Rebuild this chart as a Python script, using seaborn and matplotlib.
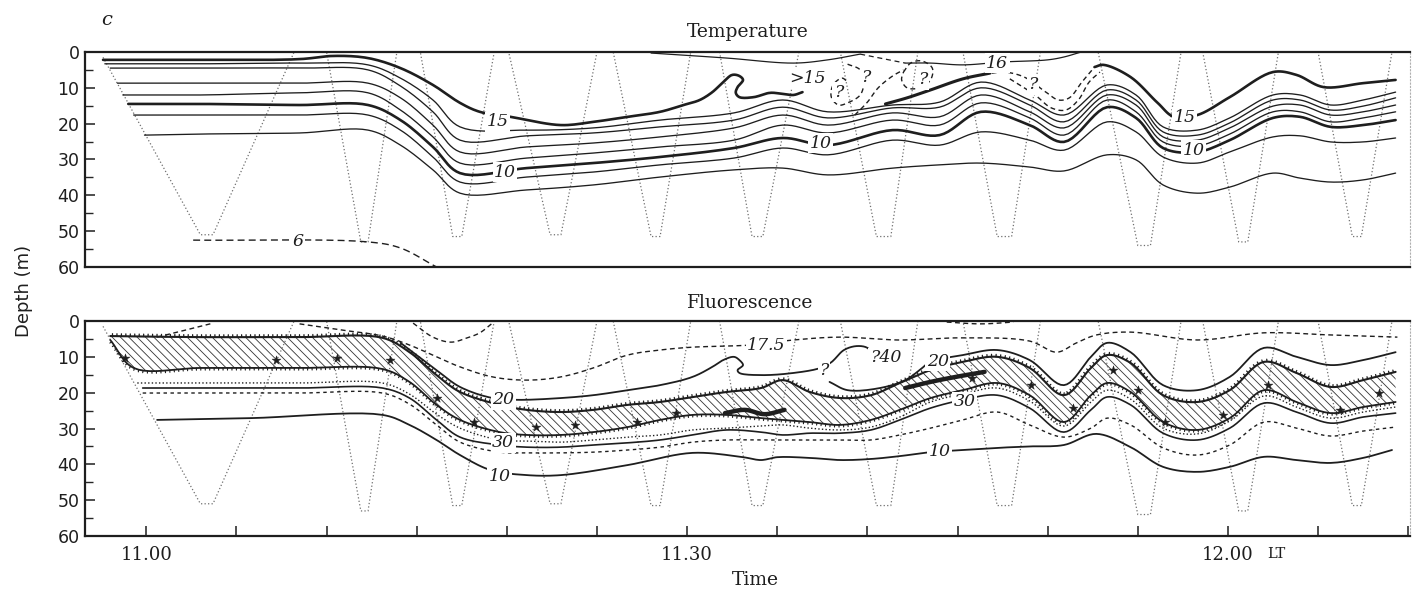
import numpy as np
import matplotlib
matplotlib.use("Agg")
import matplotlib.pyplot as plt
import matplotlib.patheffects as pe
from matplotlib.ticker import MultipleLocator
import seaborn as sns

# ------------------------------------------------------------------
# Axes: time in minutes after 11.00 local time, depth in metres
# ------------------------------------------------------------------
time_ticks = [0, 5, 10, 15, 20, 25, 30, 35, 40, 45, 50, 55, 60, 65, 70]
time_labels = ["11.00", "", "", "", "", "", "11.30", "", "", "", "", "", "12.00", "", ""]
depth_ticks = [0, 10, 20, 30, 40, 50, 60]
time_range = [-3.4, 70.1]

# towed-body track (same run for both sections)
tow_t = [-2.4, 3.0, 3.7, 8.2, 10.0, 11.9, 12.3, 13.9, 15.2, 17.0, 17.5, 19.3, 20.1,
         22.4, 23.0, 25.0, 25.9, 28.0, 28.5, 30.2, 31.8, 33.6, 34.2, 36.2, 38.5,
         40.5, 41.3, 42.8, 45.3, 47.2, 48.0, 49.6, 52.8, 55.0, 55.7, 57.4, 58.6,
         60.6, 61.1, 62.8, 65.0, 66.9, 67.4, 69.1]
tow_d = [1.5, 51.0, 51.0, 0.0, 0.0, 53.0, 53.0, 0.0, 0.0, 51.5, 51.5, 0.0, 0.0,
         51.0, 51.0, 0.0, 0.0, 51.5, 51.5, 0.0, 0.0, 51.5, 51.5, 0.0, 0.0,
         51.5, 51.5, 0.0, 0.0, 51.5, 51.5, 0.0, 0.0, 54.0, 54.0, 0.0, 0.0,
         53.0, 53.0, 0.0, 0.0, 51.5, 51.5, 0.0]

# ------------------------------------------------------------------
# Temperature section: isotherm depths
# ------------------------------------------------------------------
iso_cols = [3.0, 8.5, 12.3, 14.1, 15.9, 17.4, 21.1, 24.8, 28.5, 32.6, 35.3, 37.8, 41.4,
            44.0, 46.3, 49.0, 50.9, 53.3, 54.9, 56.4, 58.3, 60.1, 62.5, 64.0, 65.7, 67.5, 69.3]
iso_names = ["14", "13", "12", "11", "10", "9", "8"]
iso_start_t = [-2.3, -2.0, -1.6, -1.3, -1.0, -0.7, -0.1]
iso_start_d = [3.3, 4.5, 8.7, 12.0, 14.5, 17.6, 23.2]
temp14 = [3.3, 3.1, 3.6, 7.3, 13.4, 20.9, 21.8, 21.2, 19.0, 17.0, 13.4, 16.7, 14.8, 14.0,
          8.4, 13.4, 17.6, 9.2, 12.0, 20.9, 21.8, 18.4, 12.0, 12.0, 14.8, 13.4, 11.2]
temp13 = [4.5, 4.5, 5.0, 9.5, 16.7, 24.6, 23.4, 22.6, 20.9, 19.0, 15.4, 18.4, 15.6, 15.4,
          10.0, 14.8, 19.5, 10.6, 13.4, 22.3, 23.2, 19.8, 13.4, 13.4, 16.2, 15.1, 12.8]
temp12 = [8.7, 8.7, 8.7, 12.8, 20.4, 27.9, 26.5, 25.4, 23.7, 21.2, 17.6, 20.4, 17.0, 18.1,
          12.0, 16.7, 21.2, 12.0, 14.8, 23.7, 24.6, 21.2, 15.1, 14.8, 17.6, 16.7, 14.8]
temp11 = [12.0, 11.4, 11.4, 16.2, 23.7, 31.0, 29.6, 28.2, 26.5, 24.6, 20.4, 22.6, 19.0, 20.4,
          14.2, 18.4, 23.2, 13.4, 16.7, 25.1, 26.2, 22.9, 16.7, 16.7, 19.5, 18.4, 16.7]
temp10 = [14.5, 14.8, 14.8, 19.0, 26.5, 33.8, 32.4, 31.0, 29.3, 26.8, 24.0, 26.0, 21.8, 23.2,
          16.7, 20.4, 25.1, 15.4, 18.4, 26.8, 27.9, 24.6, 18.4, 18.1, 20.9, 20.4, 19.0]
temp9 = [17.6, 17.6, 17.6, 21.8, 29.3, 36.3, 34.9, 33.5, 31.5, 29.6, 26.8, 28.7, 24.6, 26.0,
         22.3, 24.6, 27.4, 19.5, 22.3, 29.3, 31.0, 27.9, 23.7, 23.4, 25.1, 25.1, 24.0]
temp8 = [22.9, 22.6, 21.8, 26.0, 32.9, 39.4, 38.5, 37.1, 34.9, 32.9, 32.4, 34.3, 32.4, 31.5,
         31.0, 32.1, 33.2, 28.7, 30.1, 37.1, 39.4, 37.7, 33.8, 35.2, 36.3, 35.7, 33.8]

# 15 degree isotherm (with overturning billow), in three pieces
t15a_t = [-2.4, 3.0, 8.5, 10.4, 12.3, 14.1, 15.9, 17.4, 18.5, 20.2, 23.0, 24.8, 26.7, 28.5,
          29.8, 30.7, 31.4, 32.0, 32.5, 32.9, 33.1, 32.8, 32.7, 32.9, 33.7, 34.6, 35.3, 35.9, 36.4]
t15a_d = [2.2, 2.2, 2.0, 1.1, 1.7, 4.5, 9.2, 14.2, 16.7, 18.1, 20.4, 19.5, 18.1, 16.7,
          14.8, 13.4, 11.2, 8.4, 6.4, 6.7, 7.8, 9.8, 11.4, 12.6, 12.6, 11.4, 11.7, 12.0, 11.2]
t15b_t = [41.0, 42.2, 43.5, 45.3, 46.8]
t15b_d = [14.5, 12.8, 10.6, 7.5, 5.9]
t15c_t = [52.6, 53.1, 54.6, 56.1, 57.0, 58.3, 60.1, 62.5, 63.8, 65.3, 67.5, 69.3]
t15c_d = [4.2, 3.6, 7.0, 14.2, 18.1, 17.6, 12.6, 5.6, 6.4, 9.8, 8.7, 7.8]

# near-surface warm isotherm
surf1_t = [28.0, 32.2, 35.9, 37.8, 39.6]
surf1_d = [0.3, 1.7, 3.1, 2.2, 0.6]
surf_gap_t = [39.6, 40.7, 42.1]
surf_gap_d = [0.6, 1.7, 3.1]
surf2_t = [42.1, 43.5, 45.3, 47.5, 50.0, 50.9, 51.8]
surf2_d = [3.1, 3.1, 3.6, 2.8, 2.2, 1.4, 0.1]

# uncertain (dashed) contours
trough_out_t = [46.9, 47.6, 48.7, 49.9, 50.6, 51.2, 51.9, 52.6]
trough_out_d = [5.9, 5.6, 7.0, 11.2, 13.4, 12.8, 8.4, 4.2]
trough_in_t = [47.9, 49.3, 50.2, 51.0, 51.7, 52.3, 52.9]
trough_in_d = [7.5, 12.0, 15.6, 16.2, 13.4, 8.4, 5.6]
eddyA_t = [38.9, 39.6, 39.8, 39.6, 38.9, 38.4, 38.0, 38.1, 38.6, 38.9]
eddyA_d = [3.4, 5.0, 8.4, 12.0, 14.2, 14.8, 12.6, 9.2, 7.3, 8.4]
eddyB_t = [42.0, 42.4, 43.0, 43.6, 43.5, 42.9, 42.2, 41.9, 42.0]
eddyB_d = [5.6, 3.1, 2.5, 4.5, 7.8, 10.0, 10.0, 7.8, 5.6]
eddy_link_t = [39.3, 40.0, 40.6, 41.4, 42.0]
eddy_link_d = [17.6, 14.0, 10.0, 6.7, 5.0]
t6_t = [2.6, 12.3, 14.1, 16.1]
t6_d = [52.5, 53.0, 54.7, 60.0]

temp_label_text = ["15", "10", "10", ">15", "16", "15", "10", "6", "?", "?", "?", "?"]
temp_label_t = [19.5, 19.9, 37.4, 36.7, 47.2, 57.6, 58.1, 8.4, 39.9, 43.1, 38.4, 49.2]
temp_label_d = [19.5, 33.5, 25.4, 7.3, 3.1, 18.4, 27.4, 53.0, 7.0, 7.8, 11.2, 9.2]

# ------------------------------------------------------------------
# Fluorescence section
# ------------------------------------------------------------------
fl_cols = [13.1, 14.6, 16.1, 17.4, 19.6, 21.1, 23.0, 24.8, 26.7, 28.5, 30.3, 32.2, 34.1,
           35.3, 36.8, 38.5, 40.2, 41.8, 43.5, 45.3, 47.2, 49.0, 50.9, 52.4, 53.3, 54.6,
           56.4, 58.3, 60.1, 62.0, 63.8, 65.7, 67.5, 69.3]
band_lead_t = [-2.0, -0.7, 3.0, 8.5]
band_top = [4.2, 4.3, 4.5, 4.5,
            4.7, 8.7, 15.1, 19.8, 23.4, 24.8, 25.4, 24.8, 23.4, 22.6, 21.2, 19.8, 18.7,
            16.5, 19.8, 21.5, 20.7, 17.3, 13.7, 11.4, 10.0, 13.1, 20.7, 13.1, 9.5, 11.7,
            20.7, 22.6, 19.3, 11.4, 14.5, 18.4, 16.5, 14.2]
band_bot = [5.3, 13.1, 13.1, 13.1,
            13.4, 17.0, 23.4, 27.6, 31.0, 31.8, 31.8, 31.0, 29.6, 27.6, 26.2, 26.2, 27.1,
            27.6, 28.2, 29.0, 27.6, 24.8, 21.5, 19.3, 17.3, 20.7, 28.2, 20.7, 17.3, 19.8,
            28.2, 30.4, 27.1, 19.3, 22.6, 25.7, 24.0, 22.6]
side_lead_t = [3.0, 8.5]
dot1_start = [-0.5, 17.3]
dot1_d = [17.3, 17.3,
          17.3, 20.4, 26.0, 29.9, 33.2, 33.5, 33.8, 33.2, 32.4, 31.8, 30.4, 29.9, 29.3,
          29.0, 29.9, 30.4, 29.6, 26.8, 22.6, 20.4, 18.7, 22.3, 29.3, 22.6, 19.3, 21.8,
          29.9, 31.5, 27.9, 20.9, 24.0, 27.1, 25.4, 24.0]
s1_start = [-0.2, 18.7]
s1_d = [18.7, 18.7,
        18.7, 21.5, 27.6, 32.4, 34.6, 35.2, 35.2, 34.6, 34.0, 33.2, 31.8, 30.4, 31.0,
        31.8, 31.3, 31.3, 30.4, 27.6, 24.3, 22.0, 20.7, 24.3, 31.0, 24.8, 21.2, 23.4,
        31.3, 33.2, 29.9, 22.9, 25.4, 28.5, 26.8, 25.7]
dash2_start = [-0.2, 20.1]
dash2_d = [20.1, 20.1,
           20.1, 23.2, 29.0, 33.8, 36.6, 36.8, 36.8, 36.6, 36.0, 35.2, 33.8, 33.2, 33.2,
           33.2, 33.2, 33.2, 33.2, 31.8, 29.9, 27.6, 25.4, 29.0, 32.4, 29.9, 27.1, 29.0,
           35.4, 37.4, 34.6, 28.2, 29.9, 32.1, 30.7, 29.6]
f10_t = [0.6, 5.8, 13.1, 14.6, 16.1, 17.4, 19.1, 21.1, 23.0, 26.7, 30.3, 33.1, 34.1, 35.0,
         36.8, 38.5, 40.2, 41.8, 43.5, 45.3, 47.2, 49.0, 50.9, 52.7, 54.6, 56.4, 58.3, 60.1,
         62.0, 63.8, 65.7, 67.5, 69.1]
f10_d = [27.6, 27.1, 26.2, 29.0, 33.2, 37.4, 41.6, 43.0, 43.0, 40.2, 36.8, 38.0, 38.8, 38.0,
         38.2, 38.8, 38.5, 37.7, 36.6, 36.0, 35.4, 35.0, 34.6, 31.5, 35.2, 40.7, 42.1, 40.7,
         37.9, 38.8, 39.6, 38.2, 36.0]
f20a_t = [14.1, 16.1, 17.4, 19.2, 20.6, 23.0, 24.8, 26.7, 28.5, 30.3, 31.4, 32.0, 32.6,
          32.9, 33.1, 32.8, 32.9, 34.1, 35.9, 37.4, 38.0, 38.7, 39.4, 40.0, 40.3]
f20a_d = [6.1, 13.7, 18.4, 21.5, 22.0, 21.5, 20.7, 19.3, 17.9, 15.6, 12.8, 10.9, 10.0,
          10.9, 12.3, 13.7, 14.5, 15.1, 14.5, 13.1, 11.5, 8.1, 7.0, 7.5, 9.5]
f20b_t = [37.9, 38.9, 40.7, 42.1, 42.9, 43.5, 45.3, 47.2, 49.0, 50.9, 52.4, 53.3, 54.6,
          56.4, 58.3, 60.1, 62.0, 63.8, 65.7, 67.5, 69.3]
f20b_d = [17.0, 19.3, 18.7, 16.5, 13.7, 11.4, 9.5, 8.1, 10.9, 17.9, 10.0, 6.1, 8.7,
          17.9, 19.3, 15.6, 7.5, 10.0, 12.3, 10.9, 8.7]
f175_t = [8.5, 10.8, 13.1, 14.6, 16.1, 17.4, 19.2, 21.1, 23.0, 24.8, 26.7, 28.5, 30.3, 32.2,
          33.5, 35.9, 38.5, 41.7, 45.3, 49.0, 50.5, 51.6, 52.7, 54.6, 58.3, 62.0, 65.7, 69.4]
f175_d = [0.8, 2.5, 4.2, 6.7, 10.0, 12.8, 15.6, 16.5, 15.6, 13.1, 9.5, 8.1, 7.3, 7.0,
          6.7, 5.3, 4.5, 5.3, 4.7, 5.6, 8.7, 6.1, 3.9, 3.1, 5.3, 3.3, 3.9, 4.5]
fsurfA_t = [0.6, 2.2, 3.7]
fsurfA_d = [4.5, 2.5, 0.6]
fU_t = [14.8, 15.9, 16.9, 17.8, 18.5, 19.2]
fU_d = [0.6, 4.5, 5.9, 4.7, 3.3, 0.6]
fsurfB_t = [44.4, 46.3, 48.1]
fsurfB_d = [0.3, 0.8, 0.3]
core1_t = [32.1, 33.2, 34.3, 35.4]
core1_d = [25.7, 24.8, 26.0, 24.8]
core2_t = [42.1, 43.5, 44.9, 46.5]
core2_d = [18.7, 17.0, 15.6, 14.2]
star_t = [-1.2, 7.2, 10.6, 13.5, 16.1, 18.2, 21.6, 23.8, 27.2, 29.4,
          45.8, 49.1, 51.4, 53.6, 55.0, 56.5, 59.7, 62.2, 66.2, 68.4]
star_d = [10.3, 10.9, 10.3, 10.9, 21.5, 28.2, 29.6, 29.0, 28.2, 25.7,
          15.9, 17.9, 24.3, 13.7, 19.3, 28.2, 26.2, 17.9, 24.8, 20.1]

fl_label_text = ["17.5", "20", "30", "10", "?", "?40", "20", "30", "10"]
fl_label_t = [34.4, 19.8, 19.8, 19.6, 37.6, 41.0, 43.9, 45.4, 44.0]
fl_label_d = [6.7, 22.0, 34.0, 43.5, 13.7, 10.3, 11.3, 22.5, 36.4]

# ------------------------------------------------------------------
# Style
# ------------------------------------------------------------------
sns.set_theme(style="ticks")
plt.rcParams["font.family"] = ["DejaVu Sans"]
plt.rcParams["hatch.linewidth"] = 0.6
plt.rcParams["hatch.color"] = "#333333"

INK = "#1e1e1e"
SERIF = "DejaVu Serif"
PX_T, PX_D = 18.0, 3.6   # approximate pixels per minute / per metre


def smooth(t, d, n=10):
    """Centripetal Catmull-Rom curve through the given points."""
    p = np.column_stack([np.asarray(t, float) * PX_T, np.asarray(d, float) * PX_D])
    if len(p) < 3:
        return p[:, 0] / PX_T, p[:, 1] / PX_D
    p = np.vstack([2 * p[0] - p[1], p, 2 * p[-1] - p[-2]])
    pieces = []
    for i in range(1, len(p) - 2):
        p0, p1, p2, p3 = p[i - 1], p[i], p[i + 1], p[i + 2]
        k0 = 0.0
        k1 = k0 + max(np.linalg.norm(p1 - p0), 1e-6) ** 0.5
        k2 = k1 + max(np.linalg.norm(p2 - p1), 1e-6) ** 0.5
        k3 = k2 + max(np.linalg.norm(p3 - p2), 1e-6) ** 0.5
        s = np.linspace(k1, k2, n, endpoint=False)[:, None]
        a1 = (k1 - s) / (k1 - k0) * p0 + (s - k0) / (k1 - k0) * p1
        a2 = (k2 - s) / (k2 - k1) * p1 + (s - k1) / (k2 - k1) * p2
        a3 = (k3 - s) / (k3 - k2) * p2 + (s - k2) / (k3 - k2) * p3
        b1 = (k2 - s) / (k2 - k0) * a1 + (s - k0) / (k2 - k0) * a2
        b2 = (k3 - s) / (k3 - k1) * a2 + (s - k1) / (k3 - k1) * a3
        pieces.append((k2 - s) / (k2 - k1) * b1 + (s - k1) / (k2 - k1) * b2)
    pieces.append(p[-2][None, :])
    out = np.vstack(pieces)
    return out[:, 0] / PX_T, out[:, 1] / PX_D


def contour(ax, t, d, lw=0.9, ls="-", color=INK, curve=True, **kw):
    x, y = smooth(t, d) if curve else (np.asarray(t, float), np.asarray(d, float))
    sns.lineplot(x=x, y=y, ax=ax, sort=False, estimator=None, color=color,
                 linewidth=lw, linestyle=ls, legend=False, **kw)


def label(ax, s, t, d, size=12.5):
    ax.text(t, d, s, ha="center", va="center", fontsize=size, family=SERIF,
            style="italic", color=INK, zorder=6,
            bbox=dict(boxstyle="square,pad=0.08", fc="white", ec="none"))


def frame(ax, show_x):
    ax.set_xlim(*time_range)
    ax.set_ylim(60, 0)
    ax.set_yticks(depth_ticks)
    ax.set_yticklabels([str(v) for v in depth_ticks], fontsize=12.5, family="DejaVu Sans")
    ax.yaxis.set_minor_locator(MultipleLocator(5))
    ax.tick_params(axis="y", which="major", direction="in", length=7, width=1.1, pad=4,
                   colors=INK)
    ax.tick_params(axis="y", which="minor", direction="in", length=6, width=1.0)
    if show_x:
        ax.set_xticks(time_ticks)
        ax.set_xticklabels(time_labels, fontsize=13, family=SERIF)
        ax.tick_params(axis="x", direction="in", length=7, width=1.1, pad=7, colors=INK)
    else:
        ax.set_xticks([])
    for side in ("left", "top", "bottom"):
        ax.spines[side].set_linewidth(1.6)
        ax.spines[side].set_color(INK)
    ax.spines["right"].set_visible(True)
    ax.spines["right"].set_linewidth(0.8)
    ax.spines["right"].set_color("#b0b0b0")
    ax.spines["right"].set_linestyle((0, (1, 2)))
    ax.set_xlabel("")
    ax.set_ylabel("")


fig = plt.figure(figsize=(14.12, 5.94), dpi=100)
ax_t = fig.add_axes([0.0602, 0.5505, 0.9384, 0.3620])
ax_f = fig.add_axes([0.0602, 0.0976, 0.9384, 0.3620])

tow_style = dict(lw=0.9, ls=(0, (1, 1.8)), color="#6f6f6f", curve=False)

# ---------------- Temperature ----------------
contour(ax_t, tow_t, tow_d, **tow_style)
iso_depths = [temp14, temp13, temp12, temp11, temp10, temp9, temp8]
for name, t0, d0, dep in zip(iso_names, iso_start_t, iso_start_d, iso_depths):
    contour(ax_t, [t0] + iso_cols, [d0] + dep, lw=1.9 if name == "10" else 0.95)
contour(ax_t, t15a_t, t15a_d, lw=1.9)
contour(ax_t, t15b_t, t15b_d, lw=2.2)
contour(ax_t, t15c_t, t15c_d, lw=1.9)
contour(ax_t, surf1_t, surf1_d, lw=0.9)
contour(ax_t, surf_gap_t, surf_gap_d, lw=0.9, ls=(0, (4, 3)))
contour(ax_t, surf2_t, surf2_d, lw=0.9)
dash = (0, (3.5, 2.5))
contour(ax_t, trough_out_t, trough_out_d, lw=1.0, ls=dash)
contour(ax_t, trough_in_t, trough_in_d, lw=1.0, ls=dash)
contour(ax_t, eddyA_t, eddyA_d, lw=1.0, ls=dash)
contour(ax_t, eddyB_t, eddyB_d, lw=1.0, ls=dash)
contour(ax_t, eddy_link_t, eddy_link_d, lw=1.0, ls=dash)
contour(ax_t, t6_t, t6_d, lw=1.0, ls=(0, (5, 3)))
for s, t, d in zip(temp_label_text, temp_label_t, temp_label_d):
    label(ax_t, s, t, d)
frame(ax_t, show_x=False)

# ---------------- Fluorescence ----------------
contour(ax_f, tow_t, tow_d, **tow_style)

bt = band_lead_t + fl_cols
top_x, top_y = smooth(bt, band_top)
bot_x, bot_y = smooth(bt, band_bot)
grid = np.linspace(bt[0], bt[-1], 2000)
top_g = np.interp(grid, np.maximum.accumulate(top_x), top_y)
bot_g = np.interp(grid, np.maximum.accumulate(bot_x), bot_y)
ax_f.fill_between(grid, top_g, bot_g, facecolor="none", edgecolor="#333333",
                  hatch="\\\\\\\\", linewidth=0, zorder=1)
sns.lineplot(x=top_x, y=top_y, ax=ax_f, sort=False, estimator=None, color=INK,
             linewidth=1.5, legend=False,
             path_effects=[pe.withTickedStroke(angle=90, spacing=3.2, length=0.55,
                                               linewidth=0.9)])
sns.lineplot(x=bot_x, y=bot_y, ax=ax_f, sort=False, estimator=None, color=INK,
             linewidth=1.3, legend=False,
             path_effects=[pe.withTickedStroke(angle=-90, spacing=3.2, length=0.5,
                                               linewidth=0.8)])

contour(ax_f, dot1_start[:1] + side_lead_t + fl_cols, dot1_start[1:] + dot1_d,
        lw=1.0, ls=(0, (1, 1.6)))
contour(ax_f, s1_start[:1] + side_lead_t + fl_cols, s1_start[1:] + s1_d, lw=1.2)
contour(ax_f, dash2_start[:1] + side_lead_t + fl_cols, dash2_start[1:] + dash2_d,
        lw=1.0, ls=(0, (2.5, 2.5)))
contour(ax_f, f10_t, f10_d, lw=1.3)
contour(ax_f, f20a_t, f20a_d, lw=1.3)
contour(ax_f, f20b_t, f20b_d, lw=1.3)
contour(ax_f, f175_t, f175_d, lw=1.0, ls=dash)
contour(ax_f, fsurfA_t, fsurfA_d, lw=1.0, ls=dash)
contour(ax_f, fU_t, fU_d, lw=1.0, ls=dash)
contour(ax_f, fsurfB_t, fsurfB_d, lw=1.0, ls=dash)
contour(ax_f, core1_t, core1_d, lw=3.2)
contour(ax_f, core2_t, core2_d, lw=3.2)
sns.scatterplot(x=star_t, y=star_d, ax=ax_f, marker="*", s=45, color=INK,
                edgecolor=INK, linewidth=0.3, zorder=5, legend=False)
for s, t, d in zip(fl_label_text, fl_label_t, fl_label_d):
    label(ax_f, s, t, d)
frame(ax_f, show_x=True)
ax_f.text(62.2, -0.082, "LT", transform=ax_f.get_xaxis_transform(), ha="left",
          va="center", fontsize=10.5, family=SERIF, color=INK)

# ---------------- figure text ----------------
fig.text(0.5297, 0.946, "Temperature", ha="center", va="center", fontsize=13.5,
         family=SERIF, color=INK)
fig.text(0.5312, 0.4899, "Fluorescence", ha="center", va="center", fontsize=13.5,
         family=SERIF, color=INK)
fig.text(0.5347, 0.0236, "Time", ha="center", va="center", fontsize=13.5,
         family=SERIF, color=INK)
fig.text(0.017, 0.51, "Depth (m)", ha="center", va="center", rotation=90,
         fontsize=13, family="DejaVu Sans", color=INK)
fig.text(0.0758, 0.966, "c", ha="center", va="center", fontsize=14, family=SERIF,
         style="italic", color=INK)

fig.savefig("out.png", dpi=100, facecolor="white")
